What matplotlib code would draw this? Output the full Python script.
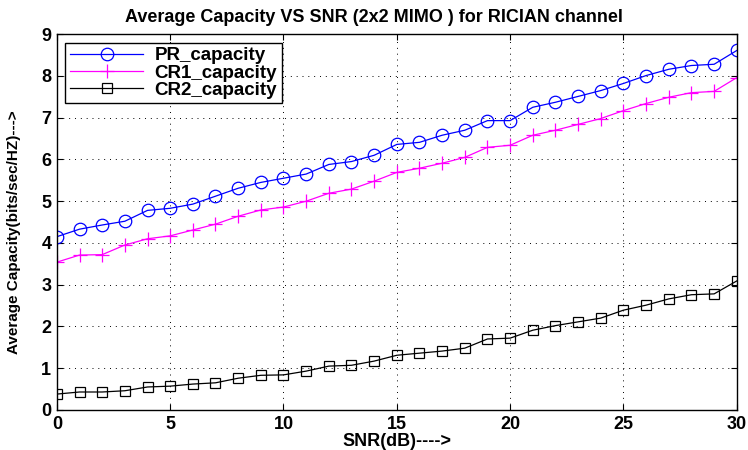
import matplotlib
matplotlib.use("Agg")
import matplotlib.pyplot as plt
import numpy as np

snr = list(range(0, 31))
pr_capacity = [4.15, 4.33, 4.43, 4.52, 4.78, 4.83, 4.93, 5.12, 5.31, 5.45, 5.55, 5.65, 5.88, 5.95, 6.10,
               6.36, 6.41, 6.58, 6.70, 6.93, 6.93, 7.25, 7.37, 7.51, 7.65, 7.82, 8.01, 8.16, 8.25, 8.28, 8.61]
cr1_capacity = [3.54, 3.71, 3.72, 3.95, 4.10, 4.17, 4.31, 4.45, 4.64, 4.79, 4.86, 5.00, 5.19, 5.29, 5.48,
                5.69, 5.79, 5.91, 6.05, 6.29, 6.34, 6.58, 6.70, 6.84, 6.98, 7.17, 7.34, 7.49, 7.60, 7.63, 7.96]
cr2_capacity = [0.38, 0.43, 0.43, 0.46, 0.55, 0.57, 0.62, 0.65, 0.76, 0.83, 0.84, 0.93, 1.05, 1.07, 1.17,
                1.31, 1.36, 1.41, 1.48, 1.70, 1.72, 1.91, 2.02, 2.11, 2.20, 2.39, 2.51, 2.66, 2.76, 2.78, 3.09]
xticks = [0, 5, 10, 15, 20, 25, 30]
yticks = [0, 1, 2, 3, 4, 5, 6, 7, 8, 9]

plt.rcParams['font.family'] = ['Liberation Sans', 'DejaVu Sans']
fig = plt.figure(figsize=(7.48, 4.5), dpi=100)
ax = fig.add_axes([0.076, 0.089, 0.909, 0.835])

ax.plot(snr, pr_capacity, color='blue', marker='o', markersize=9, markerfacecolor='none',
        markeredgewidth=0.9, linewidth=0.9, label='PR_capacity')
ax.plot(snr, cr1_capacity, color='magenta', marker='+', markersize=10,
        markeredgewidth=0.9, linewidth=0.9, label='CR1_capacity')
ax.plot(snr, cr2_capacity, color='black', marker='s', markersize=7.5, markerfacecolor='none',
        markeredgewidth=0.9, linewidth=0.9, label='CR2_capacity')

ax.set_xlim(0, 30)
ax.set_ylim(0, 9)
ax.set_xticks(xticks)
ax.set_yticks(yticks)
ax.grid(True, color='black', linestyle=(0, (1, 5)), linewidth=0.7)
for s in ax.spines.values():
    s.set_linewidth(1.0)
ax.tick_params(direction='in', length=4, labelsize=13, top=True, right=True, pad=4)
for lbl in ax.get_xticklabels() + ax.get_yticklabels():
    lbl.set_fontweight('bold')

fig.text(0.5, 0.962, 'Average Capacity VS SNR (2x2 MIMO ) for RICIAN channel', fontsize=13,
         fontweight='bold', ha='center', va='center')
ax.set_xlabel('SNR(dB)---->', fontsize=13, fontweight='bold', labelpad=0)
ax.set_ylabel('Average Capacity(bits/sec/HZ)--->', fontsize=11, fontweight='bold', labelpad=6)
ax.yaxis.set_label_coords(-0.052, 0.473)

leg = ax.legend(loc='upper left', prop={'weight': 'bold', 'size': 13.5},
                fancybox=False, edgecolor='black', framealpha=1, borderpad=0.25,
                labelspacing=0.0, handlelength=3.9, handletextpad=0.6, borderaxespad=0.45)
leg.get_frame().set_linewidth(1.0)

fig.savefig('out.png', dpi=100)
